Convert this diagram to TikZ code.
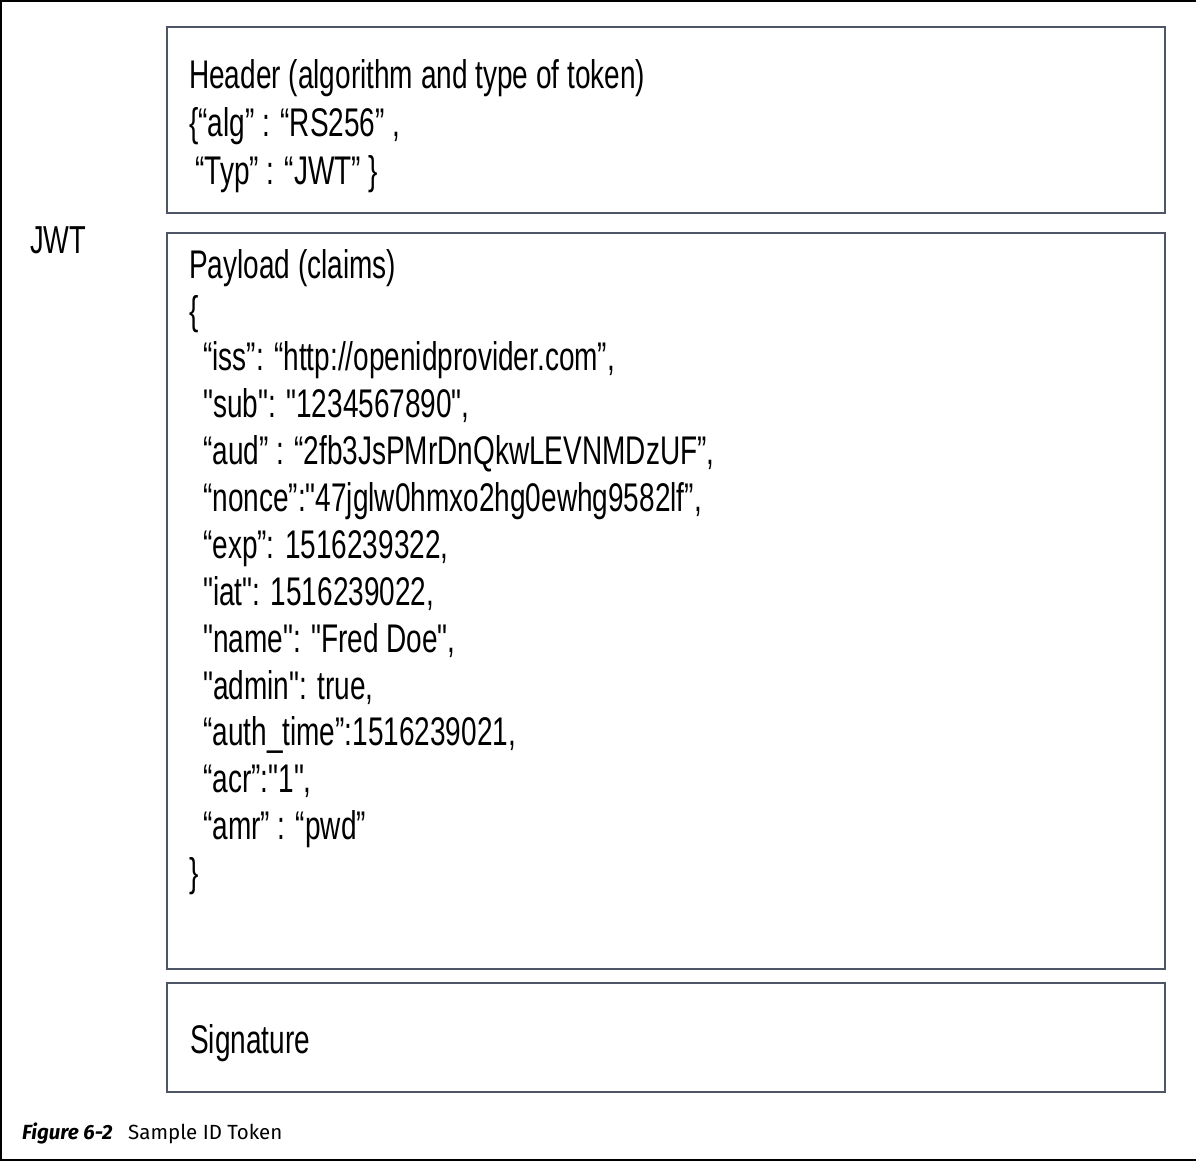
\documentclass[tikz,border=0pt]{standalone}
\usepackage{fontspec}
\setsansfont{Fira Sans}
\newfontfamily\condfont[FakeStretch=0.70]{Liberation Sans}
\definecolor{boxline}{HTML}{4D5566}

\begin{document}
\begin{tikzpicture}[x=1pt, y=-1pt,
  part/.style={draw=boxline, line width=2.4pt},
  jwt/.style={anchor=base west, inner sep=0pt, font=\condfont\fontsize{40}{47}\selectfont},
  caption/.style={anchor=base west, inner sep=0pt, font=\sffamily\fontsize{20.5}{24}\selectfont}]
\useasboundingbox (0,0) rectangle (1196,1161);
% outer frame
\draw[line width=1.6pt] (1196,1) -- (1,1) -- (1,1160) -- (1196,1160);

% the three parts of the token
\draw[part] (167,27) rectangle (1165,213);
\draw[part] (167,233) rectangle (1165,969);
\draw[part] (167,983) rectangle (1165,1092);

\node[jwt, font=\condfont\fontsize{39}{44}\selectfont] (label) at (30,253) {JWT};

% header
\node[jwt] (hdr) at (189,89) {Header (algorithm and type of token)};
\node[jwt] (alg) at (189,137) {\{“alg” : “RS256” ,};
\node[jwt] (typ) at (195,185) {“Typ” : “JWT” \}};

% payload
\node[jwt] (pay) at (189,278) {Payload (claims)};
\node[jwt] (open) at (189,324) {\{};
\node[jwt] (iss) at (203,370) {“iss”: “http://openidprovider.com”,};
\node[jwt] (sub) at (203,417) {"sub": "1234567890",};
\node[jwt] (aud) at (203,464) {“aud” : “2fb3JsPMrDnQkwLEVNMDzUF”,};
\node[jwt] (nonce) at (203,511) {“nonce”:"47jglw0hmxo2hg0ewhg9582lf”,};
\node[jwt] (exp) at (203,558) {“exp”: 1516239322,};
\node[jwt] (iat) at (203,605) {"iat": 1516239022,};
\node[jwt] (name) at (203,652) {"name": "Fred Doe",};
\node[jwt] (admin) at (203,699) {"admin": true,};
\node[jwt] (auth) at (203,745) {“auth\_time”:1516239021,};
\node[jwt] (acr) at (203,792) {“acr”:"1",};
\node[jwt] (amr) at (203,839) {“amr” : “pwd”};
\node[jwt] (close) at (189,886) {\}};

% signature
\node[jwt] (sig) at (190,1053) {Signature};

% caption
\node[caption] (fig) at (22,1139) {\bfseries\itshape Figure 6-2};
\node[caption] (cap) at (128,1139) {Sample ID Token};
\end{tikzpicture}
\end{document}
